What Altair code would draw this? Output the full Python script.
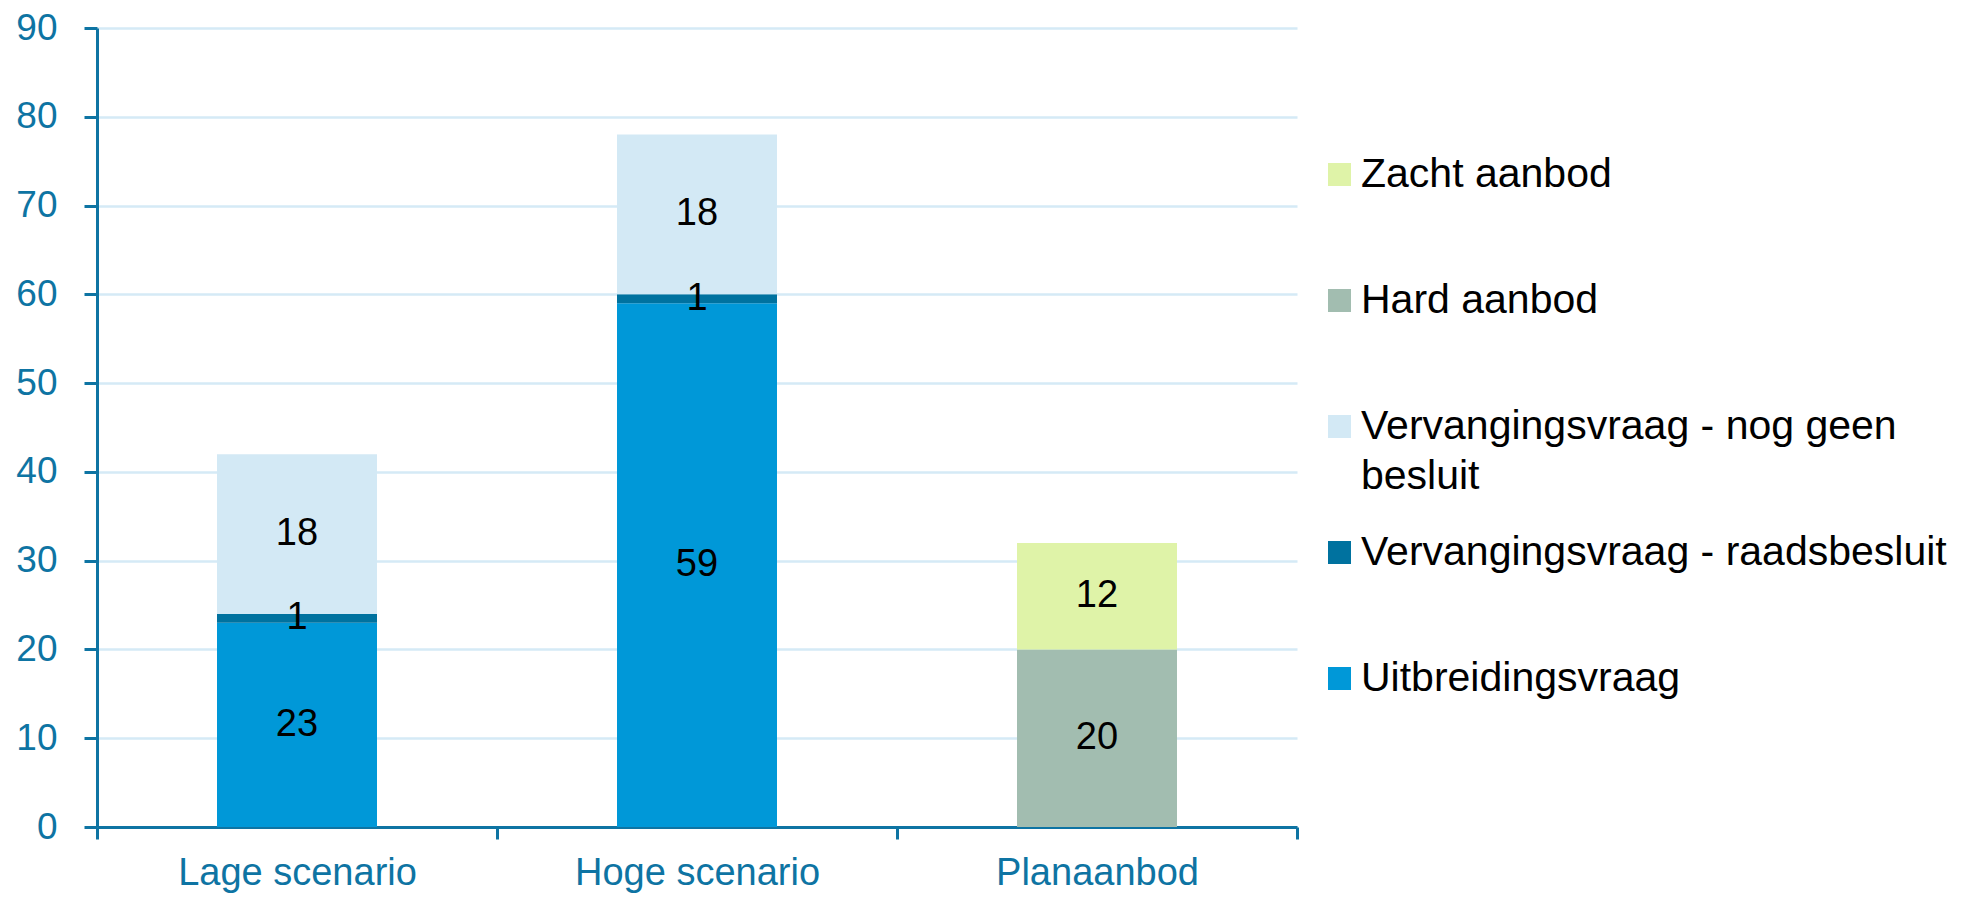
import altair as alt
import pandas as pd

categories = ["Lage scenario", "Hoge scenario", "Planaanbod"]
series = [
    "Uitbreidingsvraag",
    "Vervangingsvraag - raadsbesluit",
    "Vervangingsvraag - nog geen besluit",
    "Hard aanbod",
    "Zacht aanbod",
]
lage = [23, 1, 18, 0, 0]
hoge = [59, 1, 18, 0, 0]
plan = [0, 0, 0, 20, 12]
series_colors = ["#0098d8", "#00729f", "#d3e9f5", "#a2bdb0", "#dff3a8"]
legend_order = [
    "Zacht aanbod",
    "Hard aanbod",
    "Vervangingsvraag - nog geen besluit",
    "Vervangingsvraag - raadsbesluit",
    "Uitbreidingsvraag",
]
y_ticks = [0, 10, 20, 30, 40, 50, 60, 70, 80, 90]

rows = []
for cat, vals in zip(categories, [lage, hoge, plan]):
    for i, (s, v) in enumerate(zip(series, vals)):
        if v > 0:
            rows.append({"categorie": cat, "reeks": s, "waarde": v, "volgorde": i})
df = pd.DataFrame(rows)

color_map = dict(zip(series, series_colors))
legend_colors = [color_map[s] for s in legend_order]

AXIS = "#0e74a3"

base = alt.Chart(df).transform_stack(
    stack="waarde",
    groupby=["categorie"],
    as_=["y0", "y1"],
    sort=[alt.SortField("volgorde", order="ascending")],
).transform_calculate(mid="(datum.y0 + datum.y1) / 2")

x_scale = alt.Scale(paddingInner=0, paddingOuter=0)

x_enc = alt.X(
    "categorie:N",
    sort=categories,
    title=None,
    scale=x_scale,
    axis=alt.Axis(
        tickBand="extent",
        tickSize=12,
        tickWidth=3,
        tickColor=AXIS,
        domainColor=AXIS,
        domainWidth=3,
        labelColor=AXIS,
        labelFont="Liberation Sans",
        labelFontSize=38,
        labelLimit=600,
        labelPadding=15,
        labelAngle=0,
        grid=False,
    ),
)

bars = base.mark_bar(width=alt.RelativeBandSize(0.4)).encode(
    x=x_enc,
    y=alt.Y(
        "y0:Q",
        title=None,
        scale=alt.Scale(domain=[0, 90], nice=False),
        axis=alt.Axis(
            values=y_ticks,
            tickSize=13,
            tickWidth=3,
            tickColor=AXIS,
            domainColor=AXIS,
            domainWidth=3,
            labelColor=AXIS,
            labelFont="Liberation Sans",
            labelFontSize=37,
            labelPadding=27,
            grid=True,
            gridColor="#d5eaf6",
            gridWidth=2.5,
        ),
    ),
    y2="y1:Q",
    color=alt.Color(
        "reeks:N",
        scale=alt.Scale(domain=legend_order, range=legend_colors),
        legend=alt.Legend(
            title=None,
            orient="none",
            legendX=1222,
            legendY=126,
            gridAlign="all",
            symbolType="square",
            symbolSize=529,
            symbolStrokeWidth=0,
            labelFont="Liberation Sans",
            labelFontSize=41,
            labelColor="#000000",
            labelLimit=800,
            labelOffset=1,
            rowPadding=34,
            labelExpr="datum.label == 'Vervangingsvraag - nog geen besluit' ? ['Vervangingsvraag - nog geen', 'besluit'] : datum.label",
        ),
    ),
)

labels = base.mark_text(
    font="Liberation Sans", fontSize=38, color="#000000", baseline="middle"
).encode(
    x=alt.X("categorie:N", sort=categories, scale=x_scale),
    y=alt.Y("mid:Q"),
    text=alt.Text("waarde:Q"),
)

chart = (
    alt.layer(bars, labels)
    .properties(
        width=1200,
        height=799,
        autosize=alt.AutoSizeParams(type="none"),
        padding={"left": 89, "top": 20, "right": 658, "bottom": 69},
    )
    .configure(style={"guide-label": {"lineHeight": 50}})
    .configure_view(stroke=None)
)

chart.save("out.html", embed_options={"renderer": "svg", "actions": False})
